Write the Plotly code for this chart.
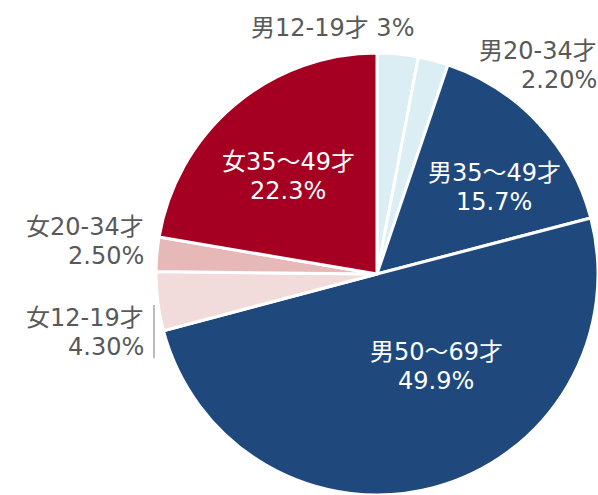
import plotly.graph_objects as go

labels = ["男12-19才", "男20-34才", "男35～49才", "男50～69才", "女12-19才", "女20-34才", "女35～49才"]
values = [3.0, 2.2, 15.7, 49.9, 4.3, 2.5, 22.3]
pct_text = ["3%", "2.20%", "15.7%", "49.9%", "4.30%", "2.50%", "22.3%"]
colors = ["#DAEEF3", "#DAEEF3", "#1F497D", "#1F497D", "#F2DCDB", "#E6B9B8", "#A50021"]

# label layout: (x px, y px of first line, anchor, inside?, single line?)
label_pos = [
    (332, 28, "center", False, True),
    (599, 51, "right", False, False),
    (494, 173, "center", True, False),
    (436, 352, "center", True, False),
    (146, 318, "right", False, False),
    (146, 227, "right", False, False),
    (288, 162, "center", True, False),
]
LINE_GAP = 29

W, H = 598, 495
CX, CY, R = 377, 274, 221
fig = go.Figure(go.Pie(
    labels=labels, values=values, sort=False, direction="clockwise", rotation=0,
    marker=dict(colors=colors, line=dict(color="white", width=3)),
    textinfo="none", hoverinfo="label+percent", showlegend=False,
    domain=dict(x=[(CX - R) / W, min(1, (CX + R) / W)], y=[max(0, 1 - (CY + R) / H), 1 - (CY - R) / H]),
))

FONT = "DejaVu Sans, Noto Sans CJK JP"
anns = []
for lab, pt, (px, py, anc, inside, single) in zip(labels, pct_text, label_pos):
    col = "white" if inside else "#595959"
    lines = [f"{lab} {pt}"] if single else [lab, pt]
    for i, t in enumerate(lines):
        anns.append(dict(
            x=px / W, y=1 - (py + i * LINE_GAP) / H, xref="paper", yref="paper", text=t,
            showarrow=False, xanchor=anc, yanchor="middle", align=anc,
            font=dict(family=FONT, size=24, color=col),
        ))

fig.update_layout(
    width=W, height=H, margin=dict(l=0, r=0, t=0, b=0),
    paper_bgcolor="white", plot_bgcolor="white", annotations=anns,
    shapes=[dict(type="line", xref="paper", yref="paper", x0=154 / W, x1=154 / W,
                 y0=1 - 305 / H, y1=1 - 358 / H, line=dict(color="#A6A6A6", width=1.5))],
)
fig.write_html("out.html")
